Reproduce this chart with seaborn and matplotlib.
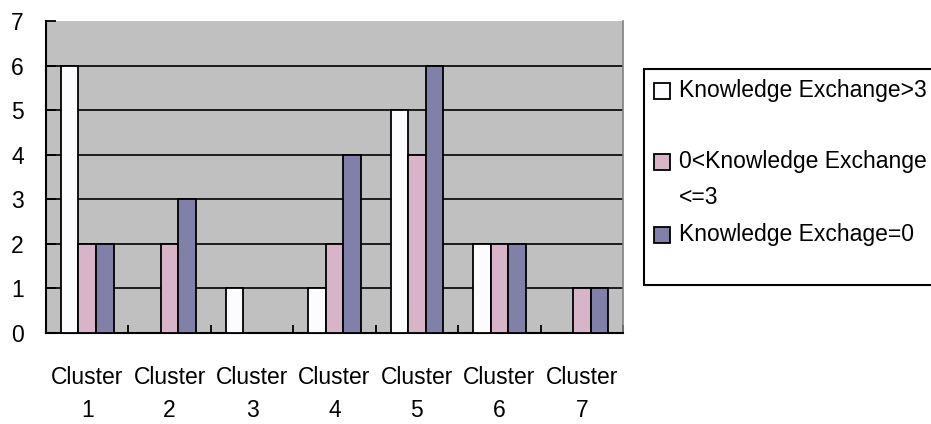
import seaborn as sns
import matplotlib.pyplot as plt
import numpy as np
import pandas as pd
from matplotlib.patches import Rectangle

clusters = ["Cluster\n1", "Cluster\n2", "Cluster\n3", "Cluster\n4", "Cluster\n5", "Cluster\n6", "Cluster\n7"]
series = ["Knowledge Exchange>3", "0<Knowledge Exchange\n<=3", "Knowledge Exchage=0"]
high = [6, 0, 1, 1, 5, 2, 0]
mid = [2, 2, 0, 2, 4, 2, 1]
zero = [2, 3, 0, 4, 6, 2, 1]
colors = ["#FCFCFF", "#D8B4C8", "#8080A8"]

df = pd.DataFrame({
    "cluster": clusters * 3,
    "group": [series[0]] * 7 + [series[1]] * 7 + [series[2]] * 7,
    "count": high + mid + zero,
})

sns.set_style("white")
plt.rcParams["font.family"] = ["Liberation Sans", "DejaVu Sans"]
plt.rcParams["text.color"] = "black"
plt.rcParams["xtick.color"] = "black"
plt.rcParams["ytick.color"] = "black"

W, H = 931, 424
fig = plt.figure(figsize=(W / 100, H / 100), dpi=100)
ax = fig.add_axes([46 / W, 1 - 333 / H, (623 - 46) / W, (333 - 21) / H])
ax.set_facecolor("#C0C0C0")

sns.barplot(data=df, x="cluster", y="count", hue="group", hue_order=series,
            palette=colors, width=0.64, edgecolor="black", linewidth=1.3,
            saturation=1, legend=False, ax=ax, zorder=3)

ax.set_ylim(0, 7)
ax.set_xlim(-0.5, 6.5)
ax.set_yticks(range(8))
for y in range(1, 7):
    ax.axhline(y, color="black", lw=1.2, zorder=1)

ax.set_xlabel("")
ax.set_ylabel("")
ax.tick_params(axis="y", direction="in", length=7, width=1.3, labelsize=16.5, pad=16, left=True,
               colors="black")
ax.tick_params(axis="x", which="major", length=0, labelsize=16.5, pad=24, colors="black")
for lab in ax.get_xticklabels():
    lab.set_linespacing(1.55)
ax.set_xticks(np.arange(-0.5, 7, 1), minor=True)
ax.tick_params(axis="x", which="minor", direction="in", length=6, width=1.3, bottom=True,
               colors="black")

for side in ["left", "bottom"]:
    ax.spines[side].set_color("black")
    ax.spines[side].set_linewidth(1.5)
ax.spines["top"].set_visible(False)
ax.spines["right"].set_color("#808080")
ax.spines["right"].set_linewidth(1.2)


def fx(px):
    return px / W


def fy(py):
    return 1 - py / H


# legend box (Excel style, cut at the right edge)
fig.add_artist(Rectangle((fx(644), fy(285)), fx(300), (285 - 69) / H, transform=fig.transFigure,
                         facecolor="white", edgecolor="black", lw=1.5))
label_y = [91, 162, 235]
for c, lab, yc in zip(colors, series, label_y):
    fig.add_artist(Rectangle((fx(654), fy(yc + 8)), fx(16), 16 / H, transform=fig.transFigure,
                             facecolor=c, edgecolor="black", lw=1.3))
    fig.text(fx(679), fy(yc - 12), lab, fontsize=16.5, va="top", ha="left", linespacing=1.75,
             color="black")

fig.savefig("out.png", dpi=100)
